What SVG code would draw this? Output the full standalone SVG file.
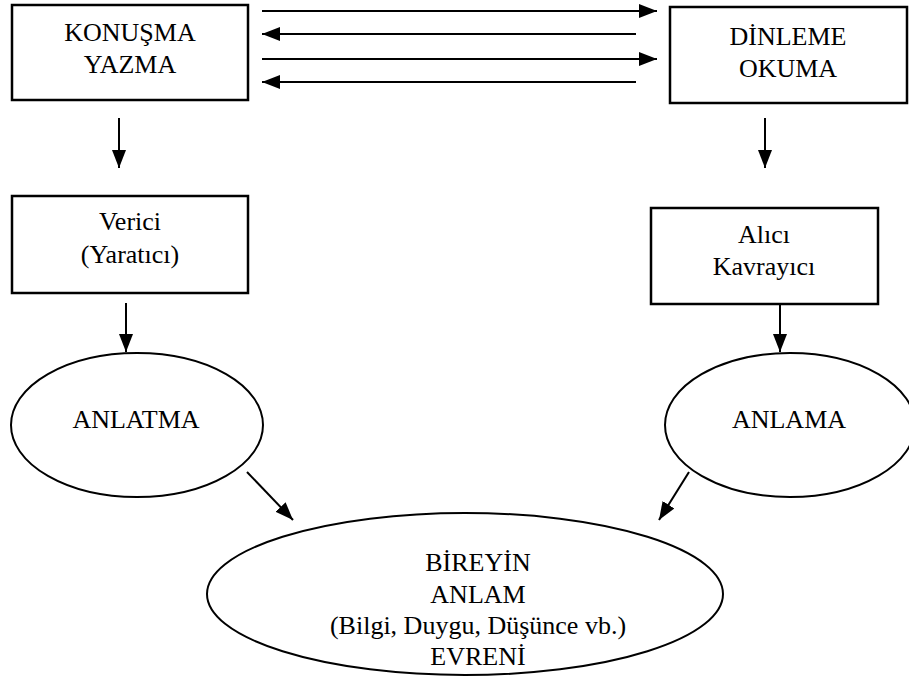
<svg xmlns="http://www.w3.org/2000/svg" width="909" height="680" viewBox="0 0 909 680">
<defs>
<marker id="ah" viewBox="0 0 18 14" refX="18" refY="7" markerWidth="18" markerHeight="14" markerUnits="userSpaceOnUse" orient="auto">
<path d="M0,0 L18,7 L0,14 Z" fill="#000"/>
</marker>
<style>
.box{fill:#fff;stroke:#000;stroke-width:2.5}
.ell{fill:#fff;stroke:#000;stroke-width:2}
.t{font-size:26px;fill:#000;text-anchor:middle}
.ca{stroke:#000;stroke-width:2;fill:none;marker-end:url(#ah)}
</style>
</defs>
<rect width="909" height="680" fill="#fff"/>
<g id="connectors">
<line class="ca" x1="262" y1="11" x2="657" y2="11"/>
<line class="ca" x1="636" y1="34" x2="262" y2="34"/>
<line class="ca" x1="262" y1="59" x2="657" y2="59"/>
<line class="ca" x1="636" y1="82" x2="262" y2="82"/>
<line class="ca" x1="119" y1="118" x2="119" y2="168"/>
<line class="ca" x1="765" y1="118" x2="765" y2="168"/>
<line class="ca" x1="126" y1="303" x2="126" y2="352"/>
<line class="ca" x1="780" y1="304" x2="780" y2="352"/>
<line class="ca" x1="247" y1="472" x2="293" y2="520"/>
<line class="ca" x1="689" y1="472" x2="659" y2="520"/>
</g>
<g font-family="Liberation Serif, Times New Roman, DejaVu Serif, serif">
<g id="konusma">
<rect class="box" x="12" y="5" width="236" height="95"/>
<text class="t" x="130" y="41">KONUŞMA</text>
<text class="t" x="130" y="73">YAZMA</text>
</g>
<g id="dinleme">
<rect class="box" x="670" y="7" width="237" height="96"/>
<text class="t" x="788" y="45">DİNLEME</text>
<text class="t" x="788" y="77">OKUMA</text>
</g>
<g id="verici">
<rect class="box" x="12" y="196" width="236" height="97"/>
<text class="t" x="130" y="230">Verici</text>
<text class="t" x="130" y="263">(Yaratıcı)</text>
</g>
<g id="alici">
<rect class="box" x="651" y="208" width="227" height="96"/>
<text class="t" x="764" y="243">Alıcı</text>
<text class="t" x="764" y="275">Kavrayıcı</text>
</g>
<g id="anlatma">
<ellipse class="ell" cx="137" cy="425" rx="126" ry="72"/>
<text class="t" x="136" y="428">ANLATMA</text>
</g>
<g id="anlama">
<ellipse class="ell" cx="790" cy="425" rx="125" ry="72"/>
<text class="t" x="789" y="428">ANLAMA</text>
</g>
<g id="bireyin">
<ellipse class="ell" cx="465" cy="594" rx="258" ry="81"/>
<text class="t" x="478" y="571">BİREYİN</text>
<text class="t" x="478" y="603">ANLAM</text>
<text class="t" x="478" y="634">(Bilgi, Duygu, Düşünce vb.)</text>
<text class="t" x="478" y="665">EVRENİ</text>
</g>
</g>
</svg>
